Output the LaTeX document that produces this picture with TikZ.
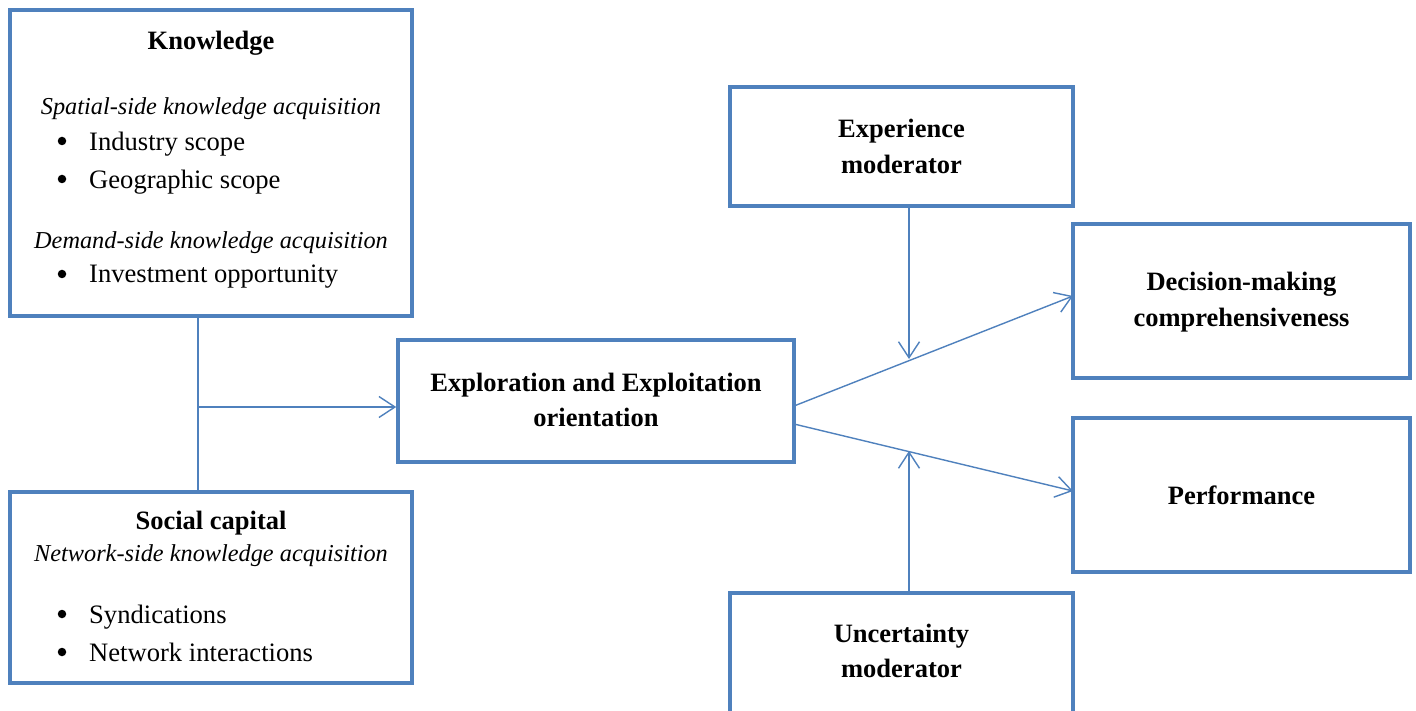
\documentclass[tikz,border=0pt]{standalone}
\usepackage{fontspec}
\setmainfont{Liberation Serif}
\usetikzlibrary{arrows.meta}
\definecolor{frame}{HTML}{4F81BD}
\begin{document}
\begin{tikzpicture}[x=1pt,y=-1pt,
  box/.style={draw=frame, line width=3.6pt, rectangle, inner sep=0pt},
  link/.style={draw=frame, line width=1.4pt},
  arrowlink/.style={link, -{Straight Barb[length=16pt,width=21pt,line width=1.4pt]}},
  title/.style={font=\fontsize{26.5}{35.5}\selectfont\bfseries, align=center, inner sep=0pt},
  sub/.style={font=\fontsize{24.3}{34}\selectfont\itshape, inner sep=0pt},
  item/.style={font=\fontsize{26.6}{36}\selectfont, anchor=west, inner sep=0pt},
  dot/.style={circle, fill=black, inner sep=0pt, minimum size=8.5pt}]
\clip (0,0) rectangle (1416,711);
\fill[white] (0,0) rectangle (1416,711);

% boxes
\node[box, minimum width=402pt, minimum height=306pt] (know) at (211,163) {};
\node[box, minimum width=402pt, minimum height=191pt] (soc) at (211,587.5) {};
\node[box, minimum width=396pt, minimum height=122pt] (expl) at (596,401) {};
\node[box, minimum width=343pt, minimum height=119pt] (exper) at (901.5,146.5) {};
\node[box, minimum width=337pt, minimum height=154pt] (dec) at (1241.5,301) {};
\node[box, minimum width=337pt, minimum height=154pt] (perf) at (1241.5,495) {};
\node[box, minimum width=343pt, minimum height=130pt] (unc) at (901.5,658) {};

% knowledge contents
\node[title] (kt) at (211,43) {Knowledge};
\node[sub] (ks1) at (211,109) {Spatial-side knowledge acquisition};
\node[dot] (kb1) at (62,141) {};
\node[item] (ki1) at (89,144) {Industry scope};
\node[dot] (kb2) at (62,179) {};
\node[item] (ki2) at (89,182) {Geographic scope};
\node[sub] (ks2) at (211,243) {Demand-side knowledge acquisition};
\node[dot] (kb3) at (62,274) {};
\node[item] (ki3) at (89,277) {Investment opportunity};

% social capital contents
\node[title] (st) at (211,523) {Social capital};
\node[sub] (ss) at (211,556) {Network-side knowledge acquisition};
\node[dot] (sb1) at (62,614) {};
\node[item] (si1) at (89,617) {Syndications};
\node[dot] (sb2) at (62,652) {};
\node[item] (si2) at (89,652.5) {Network interactions};

% other labels
\node[title] at ([yshift=1pt]expl.center) {Exploration and Exploitation\\orientation};
\node[title] at (exper.center) {Experience\\moderator};
\node[title] at ([yshift=-1pt]dec.center) {Decision-making\\comprehensiveness};
\node[title] at (perf.center) {Performance};
\node[title] at (901.5,651) {Uncertainty\\moderator};

% connectors
\coordinate (join) at (198,407);
\coordinate (upout) at (794,406);
\coordinate (upin) at (1073,296);
\coordinate (lowout) at (794,424);
\coordinate (lowin) at (1073,491);
\coordinate (upmid) at (909,359);
\coordinate (lowmid) at (909,451);
\draw[link] (know.south -| join) -- (soc.north -| join);
\draw[arrowlink] (join) -- (expl.west |- join);
\draw[arrowlink] (upout) -- (upin);
\draw[arrowlink] (lowout) -- (lowin);
\draw[arrowlink] (exper.south -| upmid) -- (upmid);
\draw[arrowlink] (unc.north -| lowmid) -- (lowmid);
\end{tikzpicture}
\end{document}
